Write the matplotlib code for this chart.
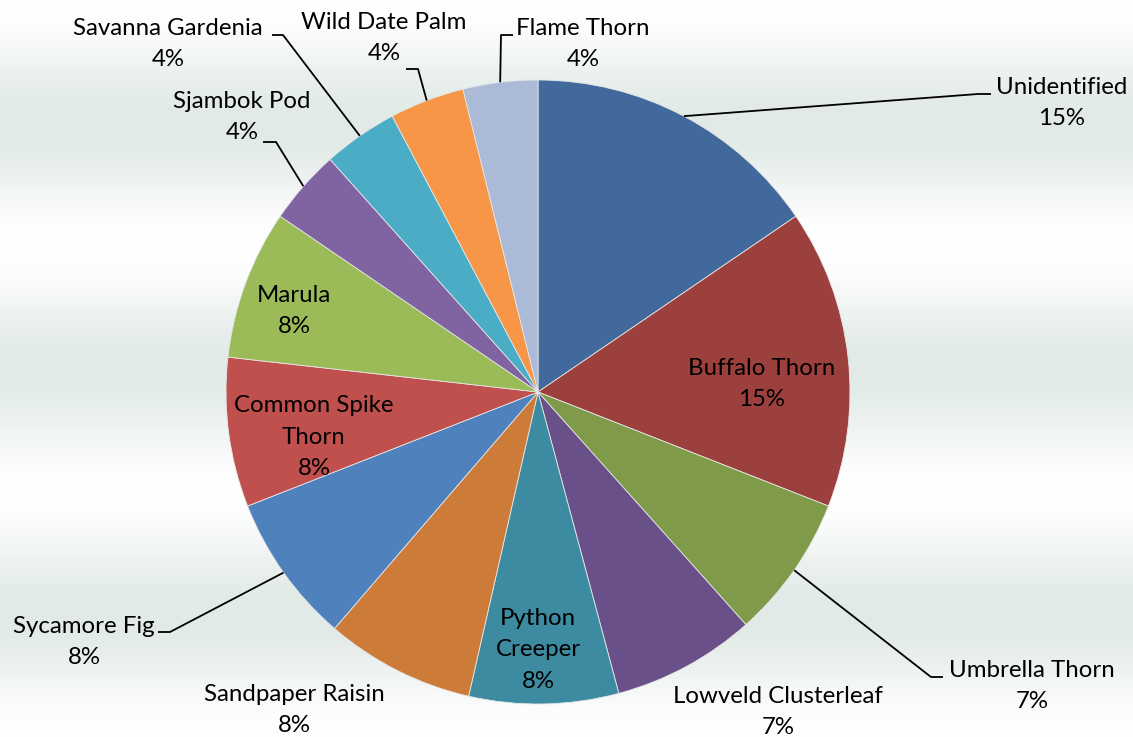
import matplotlib.pyplot as plt
import numpy as np

plt.rcParams['font.family'] = ['Lato', 'DejaVu Sans']

# species share, clockwise from 12 o'clock
species = ["Unidentified", "Buffalo Thorn", "Umbrella Thorn", "Lowveld Clusterleaf",
           "Python\nCreeper", "Sandpaper Raisin", "Sycamore Fig", "Common Spike\nThorn",
           "Marula", "Sjambok Pod", "Savanna Gardenia", "Wild Date Palm", "Flame Thorn"]
share = [15.4, 15.4, 7.4, 7.4, 7.7, 7.7, 7.7, 7.7, 7.7, 3.85, 3.85, 3.85, 3.85]
colors = ["#41699b", "#9c403e", "#7f9a48", "#6a5088", "#3d8ba0", "#cc7b38", "#4f81bd",
          "#c0504d", "#9bbb59", "#8064a2", "#4bacc6", "#f79646", "#aabad7"]

W, H = 1133, 737
CX, CY, R = 538, 392, 312

# label placement in pixel space (x right, y down); leader = (elbow, end) or None
label_pos = {
    "Unidentified": ((1062, 103), ((978, 94), (991, 94))),
    "Buffalo Thorn": ((762, 384), None),
    "Umbrella Thorn": ((1032, 686), ((931, 677), (943, 677))),
    "Lowveld Clusterleaf": ((778, 712), None),
    "Python\nCreeper": ((538, 650), None),
    "Sandpaper Raisin": ((294, 710), None),
    "Sycamore Fig": ((84, 642), ((170, 632), (158, 632))),
    "Common Spike\nThorn": ((314, 437), None),
    "Marula": ((294, 311), None),
    "Sjambok Pod": ((242, 117), ((276, 142), (263, 142))),
    "Savanna Gardenia": ((168, 44), ((283, 35), (272, 35))),
    "Wild Date Palm": ((384, 38), ((418, 69), (406, 69))),
    "Flame Thorn": ((583, 44), ((501, 35), (513, 35))),
}


def px(x, y):
    return x, H - y


fig = plt.figure(figsize=(W / 100, H / 100), dpi=100)
ax = fig.add_axes([0, 0, 1, 1])
ax.set_xlim(0, W)
ax.set_ylim(0, H)
ax.set_aspect('equal')
ax.axis('off')

# banded background: white -> pale grey-green -> white, three times down the chart
yy = np.arange(H)
t = (1 - np.cos(2 * np.pi * 3 * yy / H)) / 2
light = np.array([1.0, 1.0, 1.0])
dark = np.array([225, 234, 230]) / 255
bg = light[None, :] * (1 - t[:, None]) + dark[None, :] * t[:, None]
ax.imshow(bg[:, None, :], extent=[0, W, 0, H], aspect='auto', zorder=0, origin='upper')

wedges, _ = ax.pie(share, colors=colors, startangle=90, counterclock=False,
                   center=px(CX, CY), radius=R, frame=True,
                   wedgeprops=dict(edgecolor='#e6e6e6', linewidth=0.6))
for w in wedges:
    w.set_zorder(2)
ax.set_xlim(0, W)
ax.set_ylim(0, H)
ax.axis('off')

total = sum(share)
for w, name, val in zip(wedges, species, share):
    (tx, ty), leader = label_pos[name]
    ax.text(*px(tx, ty), f"{name}\n{val / total * 100:.0f}%", ha='center', va='center',
            multialignment='center', fontsize=17.3, color='black', linespacing=1.62,
            zorder=4)
    if leader is not None:
        mid = np.deg2rad((w.theta1 + w.theta2) / 2)
        ex = w.center[0] + w.r * np.cos(mid)
        ey = w.center[1] + w.r * np.sin(mid)
        (bx, by), (fx, fy) = leader
        ax.plot([ex, px(bx, by)[0], px(fx, fy)[0]], [ey, px(bx, by)[1], px(fx, fy)[1]],
                color='black', lw=1.3, zorder=3, solid_capstyle='butt')

fig.savefig("out.png", dpi=100)
